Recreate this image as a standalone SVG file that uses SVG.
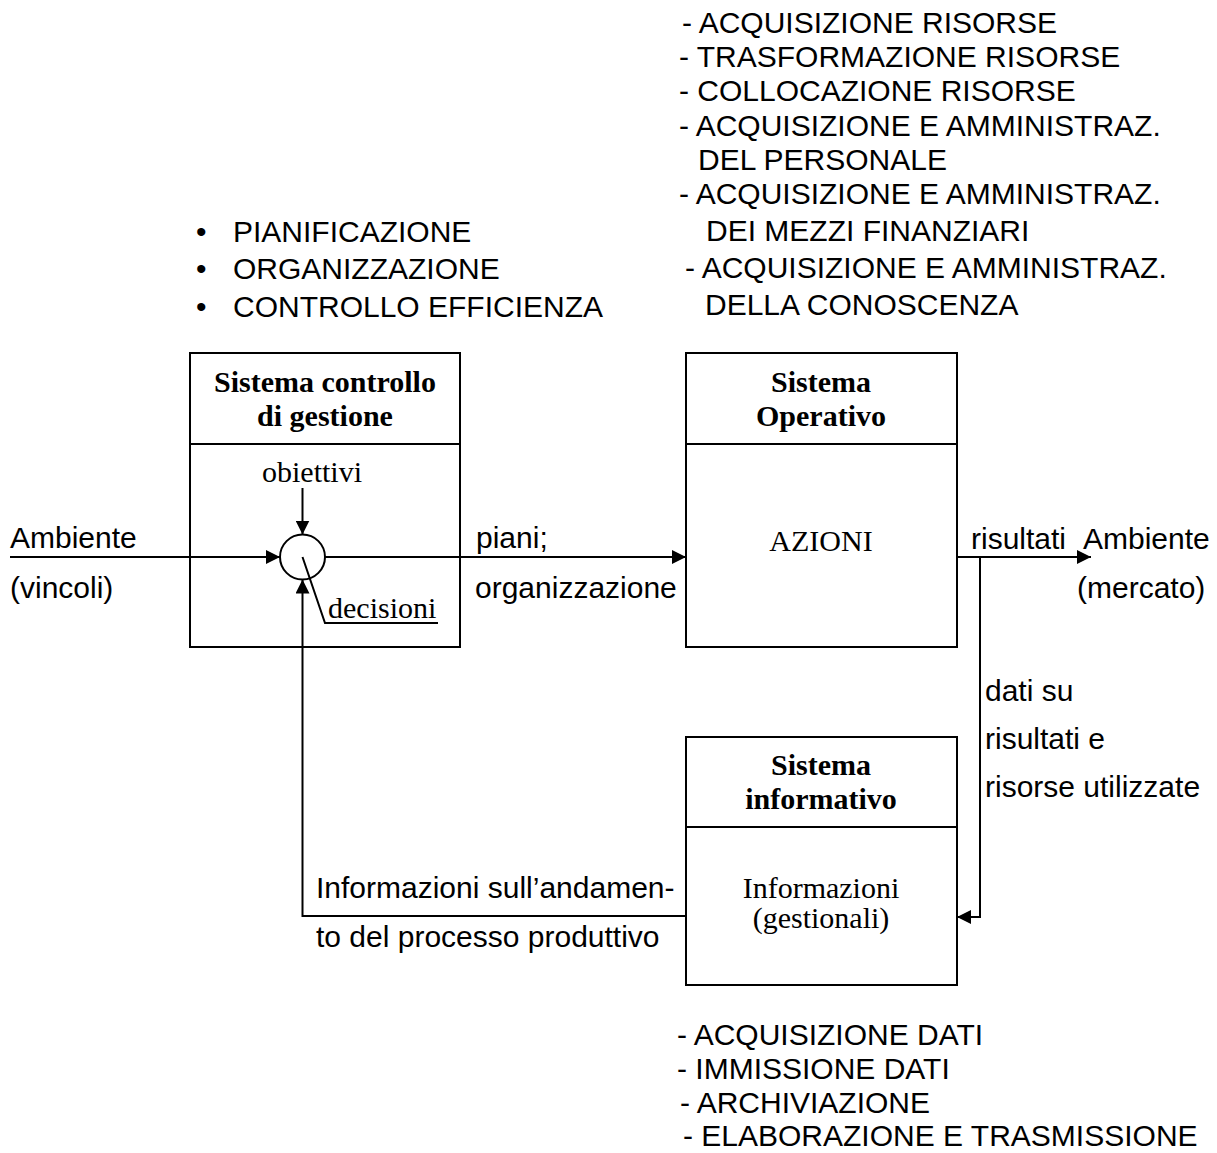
<svg xmlns="http://www.w3.org/2000/svg" width="1217" height="1153" viewBox="0 0 1217 1153">
<defs>
<style>
.sans{font-family:"Liberation Sans",Arial,sans-serif;font-size:30px;fill:#000}
.serif{font-family:"Liberation Serif","Times New Roman",serif;font-size:30px;fill:#000}
.bold{font-weight:bold}
.box{fill:#fff;stroke:#000;stroke-width:2}
.ln{fill:none;stroke:#000;stroke-width:2}
.arr{marker-end:url(#ah)}
</style>
<marker id="ah" viewBox="0 0 14 14" refX="14" refY="7" markerWidth="14" markerHeight="14" markerUnits="userSpaceOnUse" orient="auto">
<path d="M0,0 L14,7 L0,14 Z" fill="#000"/>
</marker>
</defs>
<rect width="1217" height="1153" fill="#fff"/>

<g id="top-list" class="sans">
<text x="682" y="33">- ACQUISIZIONE RISORSE</text>
<text x="679" y="67">- TRASFORMAZIONE RISORSE</text>
<text x="679" y="101">- COLLOCAZIONE RISORSE</text>
<text x="679" y="136">- ACQUISIZIONE E AMMINISTRAZ.</text>
<text x="698" y="170">DEL PERSONALE</text>
<text x="679" y="204">- ACQUISIZIONE E AMMINISTRAZ.</text>
<text x="706" y="241">DEI MEZZI FINANZIARI</text>
<text x="685" y="278">- ACQUISIZIONE E AMMINISTRAZ.</text>
<text x="705" y="315">DELLA CONOSCENZA</text>
</g>

<g id="bullet-list" class="sans">
<text x="196" y="242">•</text><text x="233" y="242">PIANIFICAZIONE</text>
<text x="196" y="279">•</text><text x="233" y="279">ORGANIZZAZIONE</text>
<text x="196" y="317">•</text><text x="233" y="317">CONTROLLO EFFICIENZA</text>
</g>

<g id="bottom-list" class="sans">
<text x="677" y="1045">- ACQUISIZIONE DATI</text>
<text x="677" y="1079">- IMMISSIONE DATI</text>
<text x="680" y="1113">- ARCHIVIAZIONE</text>
<text x="683" y="1146">- ELABORAZIONE E TRASMISSIONE</text>
</g>

<g id="node-controllo">
<rect class="box" x="190" y="353" width="270" height="294"/>
<line class="ln" x1="190" y1="444" x2="460" y2="444"/>
<text class="serif bold" x="325" y="392" text-anchor="middle">Sistema controllo</text>
<text class="serif bold" x="325" y="426" text-anchor="middle">di gestione</text>
<text class="serif" x="312" y="482" text-anchor="middle">obiettivi</text>
</g>

<g id="node-operativo">
<rect class="box" x="686" y="353" width="271" height="294"/>
<line class="ln" x1="686" y1="444" x2="957" y2="444"/>
<text class="serif bold" x="821" y="392" text-anchor="middle">Sistema</text>
<text class="serif bold" x="821" y="426" text-anchor="middle">Operativo</text>
<text class="serif" x="821" y="551" text-anchor="middle">AZIONI</text>
</g>

<g id="node-informativo">
<rect class="box" x="686" y="737" width="271" height="248"/>
<line class="ln" x1="686" y1="827" x2="957" y2="827"/>
<text class="serif bold" x="821" y="775" text-anchor="middle">Sistema</text>
<text class="serif bold" x="821" y="809" text-anchor="middle">informativo</text>
<text class="serif" x="821" y="898" text-anchor="middle">Informazioni</text>
<text class="serif" x="821" y="928" text-anchor="middle">(gestionali)</text>
</g>

<g id="node-decisione">
<circle class="ln" cx="302.5" cy="557" r="22.5"/>
</g>

<g id="connectors">
<line class="ln arr" x1="10" y1="557" x2="280" y2="557"/>
<line class="ln arr" x1="302.5" y1="488" x2="302.5" y2="534.5"/>
<line class="ln arr" x1="325" y1="557" x2="686" y2="557"/>
<line class="ln arr" x1="957" y1="557" x2="1091" y2="557"/>
<polyline class="ln arr" points="980,557 980,917 957,917"/>
<polyline class="ln arr" points="686,916 302.5,916 302.5,579.5"/>
<polyline class="ln" points="302.5,557 325,623 438,623"/>
</g>

<g id="labels">
<text class="serif" x="328" y="618">decisioni</text>
<text class="sans" x="10" y="548">Ambiente</text>
<text class="sans" x="10" y="598">(vincoli)</text>
<text class="sans" x="476" y="548">piani;</text>
<text class="sans" x="475" y="598">organizzazione</text>
<text class="sans" x="971" y="549">risultati</text>
<text class="sans" x="1083" y="549">Ambiente</text>
<text class="sans" x="1077" y="598">(mercato)</text>
<text class="sans" x="985" y="701">dati su</text>
<text class="sans" x="985" y="749">risultati e</text>
<text class="sans" x="985" y="797">risorse utilizzate</text>
<text class="sans" x="316" y="898">Informazioni sull’andamen-</text>
<text class="sans" x="316" y="947">to del processo produttivo</text>
</g>
</svg>
